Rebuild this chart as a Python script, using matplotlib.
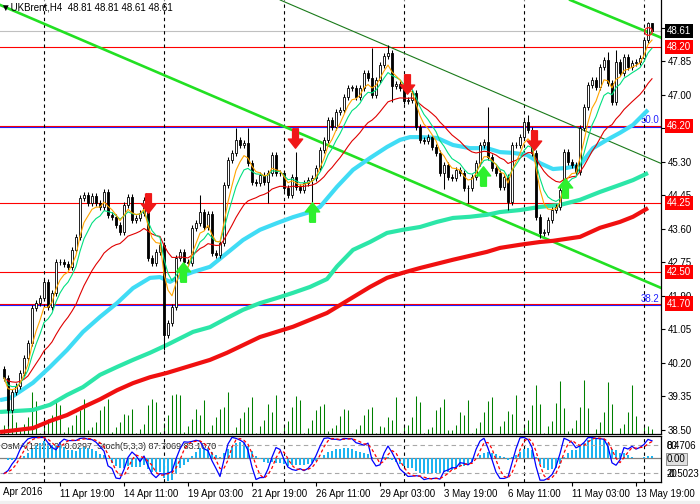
import numpy as np
import pandas as pd
import matplotlib
matplotlib.use('Agg')
import matplotlib.pyplot as plt
from matplotlib.path import Path
from matplotlib.patches import Rectangle

plt.rcParams['font.family'] = ['Liberation Sans', 'DejaVu Sans']

# ---- data (UKBrent H4) ----
first_open = 40.05
closes = [39.81, 39.00, 39.46, 39.61, 39.94, 40.32, 40.70, 41.59, 41.71, 41.84,
          42.25, 41.61, 41.97, 42.75, 42.75, 42.70, 42.63, 43.06, 43.39, 44.38,
          44.45, 44.25, 44.43, 44.25, 44.15, 44.53, 43.95, 43.90, 43.69, 43.51,
          44.20, 44.40, 43.82, 43.87, 44.00, 44.33, 42.86, 42.73, 43.01, 43.19,
          40.90, 41.21, 41.61, 42.86, 43.01, 42.75, 42.73, 43.62, 43.74, 44.02,
          43.64, 43.97, 42.98, 42.93, 43.24, 44.71, 45.34, 45.52, 45.85, 45.72,
          45.77, 45.26, 44.78, 44.76, 44.96, 44.78, 45.01, 45.47, 45.01, 45.01,
          44.63, 44.45, 44.91, 44.66, 44.58, 44.76, 44.83, 44.88, 45.14, 45.59,
          45.85, 46.35, 46.18, 46.56, 46.61, 46.94, 47.17, 47.17, 46.94, 47.17,
          47.55, 47.42, 46.99, 47.37, 47.75, 47.98, 48.05, 47.22, 47.27, 47.17,
          46.84, 46.86, 47.04, 46.18, 45.85, 45.82, 45.92, 45.67, 45.52, 45.01,
          45.21, 44.91, 44.88, 45.09, 45.01, 44.63, 44.63, 44.91, 45.26, 45.72,
          45.80, 45.42, 45.14, 45.01, 44.66, 44.91, 44.28, 45.72, 45.72, 45.92,
          46.30, 46.10, 45.52, 43.90, 43.49, 43.51, 43.82, 44.07, 44.15, 44.58,
          45.54, 45.29, 45.21, 45.04, 46.15, 46.68, 47.24, 47.37, 47.19, 47.70,
          47.88, 47.29, 46.81, 47.83, 47.55, 47.95, 47.70, 47.80, 47.83, 47.93,
          48.38, 48.81, 48.61]
long_highs = {49: 44.45, 58: 46.15, 61: 46.15, 73: 45.54, 92: 48.18, 96: 48.26,
              107: 45.95, 121: 46.68, 130: 46.35, 131: 46.48, 151: 48.08,
              153: 48.13, 161: 48.84, 162: 48.81}
long_lows = {1: 38.60, 40: 40.52, 66: 44.25, 77: 44.27, 97: 46.81, 110: 44.60,
             116: 44.25, 126: 44.07, 134: 43.36, 135: 43.40, 152: 46.73, 162: 48.61}
volumes = [26, 46, 60, 36, 16, 31, 51, 126, 98, 3, 26, 44, 58, 98, 88, 6, 21, 28, 58, 71,
           104, 11, 21, 36, 73, 84, 106, 6, 21, 36, 61, 58, 76, 4, 14, 29, 86, 104, 96, 6,
           33, 58, 118, 119, 116, 6, 24, 46, 74, 58, 103, 6, 26, 51, 74, 81, 126, 3, 21, 48,
           66, 81, 111, 3, 24, 41, 89, 66, 116, 2, 26, 39, 81, 113, 102, 3, 18, 41, 71, 83,
           89, 9, 18, 26, 53, 75, 72, 2, 14, 26, 57, 75, 80, 2, 23, 20, 50, 42, 110, 2,
           28, 28, 50, 113, 96, 2, 14, 20, 72, 80, 104, 11, 11, 26, 66, 56, 101, 2, 18, 35,
           66, 99, 110, 1, 23, 38, 68, 59, 116, 3, 28, 41, 86, 146, 89, 2, 23, 38, 92, 159,
           77, 8, 17, 41, 80, 161, 77, 1, 14, 35, 65, 155, 89, 1, 17, 29, 65, 146, 53, 1,
           21, 23, 14]

# slow moving averages (bar, price)
ma_cyan_x = [-1, 1.5, 7.25, 11.5, 15.75, 19.75, 24, 28.25, 32.25, 36.5, 39, 41.5, 43.25,
             47.25, 51.5, 55.75, 59.75, 64, 68.25, 72.25, 76.5, 79, 83.25, 87.25, 91.5,
             95.75, 99, 101.5, 104, 108.25, 112.25, 116.5, 120.75, 124, 127.25, 130.75,
             134, 137.25, 140.75, 144, 147.25, 150.75, 154, 157.25, 161]
ma_cyan_y = [39.25, 39.30, 39.69, 40.09, 40.52, 40.98, 41.36, 41.71, 42.09, 42.35, 42.37,
             42.25, 42.35, 42.50, 42.63, 42.98, 43.31, 43.57, 43.74, 43.89, 44.02, 44.15,
             44.66, 45.09, 45.39, 45.67, 45.85, 45.92, 45.92, 45.90, 45.72, 45.64, 45.64,
             45.54, 45.52, 45.47, 45.26, 45.11, 45.14, 45.21, 45.64, 45.85, 46.03, 46.23,
             46.61]
ma_mint_x = [-1, 7.25, 11.5, 15.75, 19.75, 24, 28.25, 32.25, 36.5, 40.75, 47.25, 51.5,
             55.75, 59.75, 64, 68.25, 72.25, 76.5, 80.75, 83.25, 87.25, 91.5, 95.75,
             99.75, 104, 108.25, 112.25, 116.5, 120.75, 124, 129, 134, 139, 144, 149,
             154, 157.25, 161]
ma_mint_y = [38.95, 39.00, 39.13, 39.38, 39.58, 39.89, 40.09, 40.27, 40.45, 40.65, 40.98,
             41.10, 41.33, 41.54, 41.71, 41.84, 41.97, 42.12, 42.32, 42.64, 43.06, 43.26,
             43.49, 43.57, 43.64, 43.77, 43.87, 43.90, 43.95, 44.02, 44.07, 44.15, 44.20,
             44.33, 44.53, 44.71, 44.83, 45.01]
ma_red_x = [-1, 7.25, 11.5, 15.75, 19.75, 24, 28.25, 32.25, 36.5, 40.75, 51.5, 55.75, 64,
            72.25, 80.75, 91.5, 95.75, 99.75, 104, 112.25, 120.75, 124, 129, 134, 137.25,
            144, 149, 154, 157.25, 161]
ma_red_y = [38.44, 38.54, 38.72, 38.87, 39.07, 39.27, 39.50, 39.68, 39.83, 39.94, 40.27,
            40.45, 40.85, 41.11, 41.46, 42.12, 42.35, 42.48, 42.60, 42.81, 43.01, 43.11,
            43.19, 43.26, 43.29, 43.39, 43.62, 43.77, 43.90, 44.12]

red_levels = [48.20, 46.20, 44.25, 42.50, 41.70]
fib_levels = [46.17, 41.65]
fib_names = ['50.0', '38.2']
bid = 48.61
price_ticks = [38.50, 39.35, 40.20, 41.05, 41.90, 42.75, 43.60, 44.45, 45.30,
               46.15, 47.00, 47.85, 48.70]
# trend lines: two anchor points (bar, price)
trend_thick = [((0, 49.23), (134, 43.41)), ((141.5, 49.40), (161.5, 48.56))]
trend_thin = ((69, 49.40), (162.25, 45.34))
sell_x = [36, 72.75, 100.75, 132.5]
sell_y = [44.26, 45.91, 47.27, 45.85]
buy_x = [44.75, 77, 119.75, 140.25]
buy_y = [42.49, 44.01, 44.94, 44.64]
week_sep = [10, 40, 70, 100, 130, 160]
time_bars = [14, 30, 46, 62, 78, 94, 110, 126, 142, 158]
time_labels = ['11 Apr 19:00', '14 Apr 11:00', '19 Apr 03:00', '21 Apr 19:00',
               '26 Apr 11:00', '29 Apr 03:00', '3 May 19:00', '6 May 11:00',
               '11 May 03:00', '13 May 19:00']
first_label = 'Apr 2016'

# ---- derived series ----
c = pd.Series(closes)
o = pd.Series([first_open] + closes[:-1])
n = len(closes)
idx = np.arange(n)
hi = np.maximum(o, c) + 0.07
lo = np.minimum(o, c) - 0.07
for k, v in long_highs.items():
    hi[k] = v
for k, v in long_lows.items():
    lo[k] = v
hi = pd.Series(hi)
lo = pd.Series(lo)

ema_fast = c.ewm(span=5, adjust=False).mean()
ema_mid = c.ewm(span=8, adjust=False).mean()
ema_slow = c.ewm(span=21, adjust=False).mean()

macd = c.ewm(span=12, adjust=False).mean() - c.ewm(span=26, adjust=False).mean()
osma = macd - macd.rolling(9, min_periods=1).mean()
ll = lo.rolling(5, min_periods=1).min()
hh = hi.rolling(5, min_periods=1).max()
stoch_k = 100 * (c - ll).rolling(3, min_periods=1).sum() / (hh - ll).rolling(3, min_periods=1).sum()
stoch_d = stoch_k.rolling(3, min_periods=1).mean()

# ---- figure ----
W, H = 700, 504
fig = plt.figure(figsize=(7, 5.04), dpi=100)
fig.patch.set_facecolor('white')
fig.patches.append(Rectangle((0, 0), 1, 3 / H, transform=fig.transFigure,
                             color='#F0F0F0', zorder=0))

xlim = (-1, 164.25)
ax = fig.add_axes([0, (H - 434) / H, 661 / W, 434 / H])
axv = ax.twinx()
ax.set_zorder(2)
axv.set_zorder(1)
ax.patch.set_visible(False)
axv.set_facecolor('white')

axv.vlines(idx, 0, volumes, color='#008000', lw=0.75)
axv.set_ylim(0, 434 * 3)
axv.axis('off')

ax.set_xlim(*xlim)
ax.set_ylim(38.39, 49.398)

for lvl in red_levels:
    ax.axhline(lvl, color='#FF0000', lw=0.8, zorder=1)
for lvl, name in zip(fib_levels, fib_names):
    ax.axhline(lvl, color='#2020FF', lw=0.8, zorder=1)
    ax.text(163.8, lvl + 0.05, name, color='#2020FF', fontsize=7, ha='right',
            va='bottom', zorder=3)
ax.axhline(bid, color='#C0C0C0', lw=0.8, zorder=1)

for xs in week_sep:
    ax.axvline(xs, color='black', lw=0.8, ls=(0, (3, 3)), zorder=1)

for p1, p2 in trend_thick:
    ax.axline(p1, p2, color='#22E022', lw=1.9, zorder=3)
ax.axline(trend_thin[0], trend_thin[1], color='#1A7A1A', lw=0.8, zorder=3)

ax.plot(ma_red_x, ma_red_y, color='#F01010', lw=3, zorder=4, solid_capstyle='butt')
ax.plot(ma_mint_x, ma_mint_y, color='#2CE6A8', lw=3, zorder=4, solid_capstyle='butt')
ax.plot(ma_cyan_x, ma_cyan_y, color='#40DCF5', lw=3, zorder=4, solid_capstyle='butt')

# candles
up = c >= o
ax.vlines(idx, lo, hi, color='black', lw=0.75, zorder=5)
body_bottom = np.minimum(o, c)
body_h = np.maximum(np.abs(c - o), 0.012)
ax.bar(idx, body_h, bottom=body_bottom, width=0.72,
       color=np.where(up, 'white', 'black'), edgecolor='black', lw=0.6, zorder=6)

ax.plot(idx, ema_slow, color='#E00000', lw=0.8, zorder=7)
ax.plot(idx, ema_mid, color='#00E080', lw=0.8, zorder=7)
ax.plot(idx, ema_fast, color='#FFA500', lw=0.8, zorder=7)

# signal arrows
down_arrow = Path([(-0.15, 0.5), (0.15, 0.5), (0.15, -0.03), (0.37, -0.03), (0, -0.5),
                   (-0.37, -0.03), (-0.15, -0.03), (-0.15, 0.5)])
up_arrow = Path([(x, -y) for x, y in down_arrow.vertices])
ax.plot(sell_x, sell_y, ls='none', marker=down_arrow, markersize=14,
        color='#F01818', mec='#F01818', zorder=8)
ax.plot(buy_x, buy_y, ls='none', marker=up_arrow, markersize=14,
        color='#2EF02E', mec='#2EF02E', zorder=8)
ax.plot([161], [48.60], ls='none', marker='o', markersize=5.5, mfc='none',
        mec='#FF2020', mew=0.9, zorder=9)

for s in ['left', 'top']:
    ax.spines[s].set_visible(False)
ax.spines['right'].set_linewidth(0.9)
ax.spines['bottom'].set_linewidth(0.9)
ax.set_xticks([])
ax.yaxis.set_ticks_position('right')
ax.set_yticks(price_ticks)
ax.set_yticklabels(['%.2f' % t for t in price_ticks])
ax.tick_params(axis='y', direction='out', length=3, width=0.8, pad=2, labelsize=7)

ytr = ax.get_yaxis_transform()
for lvl in red_levels:
    ax.text(1.009, lvl, '%.2f' % lvl, transform=ytr, color='white', fontsize=7,
            ha='left', va='center', clip_on=False, zorder=20,
            bbox=dict(boxstyle='square,pad=0.22', fc='#FF0000', ec='none'))
ax.text(1.009, bid, '%.2f' % bid, transform=ytr, color='white', fontsize=7,
        ha='left', va='center', clip_on=False, zorder=20,
        bbox=dict(boxstyle='square,pad=0.22', fc='black', ec='none'))

fig.text(1 / W, 1 - 7 / H, '\u25bcUKBrent,H4  48.81 48.81 48.61 48.61', fontsize=7,
         va='center', ha='left', color='black')

# ---- indicator window ----
ai = fig.add_axes([0, (H - 482) / H, 661 / W, 46 / H])
ai.set_xlim(*xlim)
ai.set_ylim(-0.5023, 0.4706)
ai.bar(idx, osma, width=0.7, color='#1EB4F0', zorder=2)
ai.axhline(0, color='#808080', lw=0.9, zorder=1)
for xs in week_sep:
    ai.axvline(xs, color='black', lw=0.8, ls=(0, (3, 3)), zorder=1)
ast = ai.twinx()
ast.set_ylim(0, 100)
ast.axhline(80, color='#A8A8A8', lw=0.8, ls=(0, (4, 3)))
ast.axhline(20, color='#A8A8A8', lw=0.8, ls=(0, (4, 3)))
ast.plot(idx, stoch_k, color='#0000FF', lw=0.9)
ast.plot(idx, stoch_d, color='#FF0000', lw=0.9, ls=(0, (2.5, 2)))
ast.axis('off')
ai.text(0.002, 0.78, 'OsMA(12,26,9) 0.0297  Stoch(5,3,3) 87.7069 83.1070',
        transform=ai.transAxes, fontsize=6.5, color='#202020', va='center', zorder=0)

for s in ['left']:
    ai.spines[s].set_visible(False)
for s in ['top', 'bottom', 'right']:
    ai.spines[s].set_linewidth(0.9)
ai.set_yticks([])
ai.set_xticks(time_bars)
ai.set_xticklabels(time_labels)
for lab in ai.get_xticklabels():
    lab.set_ha('left')
ai.tick_params(axis='x', direction='out', length=3, width=0.8, pad=2, labelsize=7)
ai.text(3 / W * (xlim[1] - xlim[0]) * (W / 661) + xlim[0], -0.11, first_label,
        transform=ai.get_xaxis_transform(), fontsize=7, ha='left', va='top', clip_on=False)

ai.text(1.009, 0.78, '80', transform=ai.transAxes, fontsize=7, va='center', clip_on=False)
ai.text(1.009, 0.78, '0.4706', transform=ai.transAxes, fontsize=7, va='center', clip_on=False)
ai.text(1.009, 0.5, '0.00', transform=ai.transAxes, fontsize=7, va='center', clip_on=False,
        bbox=dict(boxstyle='square,pad=0.1', fc='#E0E0E0', ec='#808080', lw=0.6))
ai.text(1.009, 0.18, '20', transform=ai.transAxes, fontsize=7, va='center', clip_on=False)
ai.text(1.009, 0.18, '-0.5023', transform=ai.transAxes, fontsize=7, va='center', clip_on=False)

fig.savefig('out.png', dpi=100)
